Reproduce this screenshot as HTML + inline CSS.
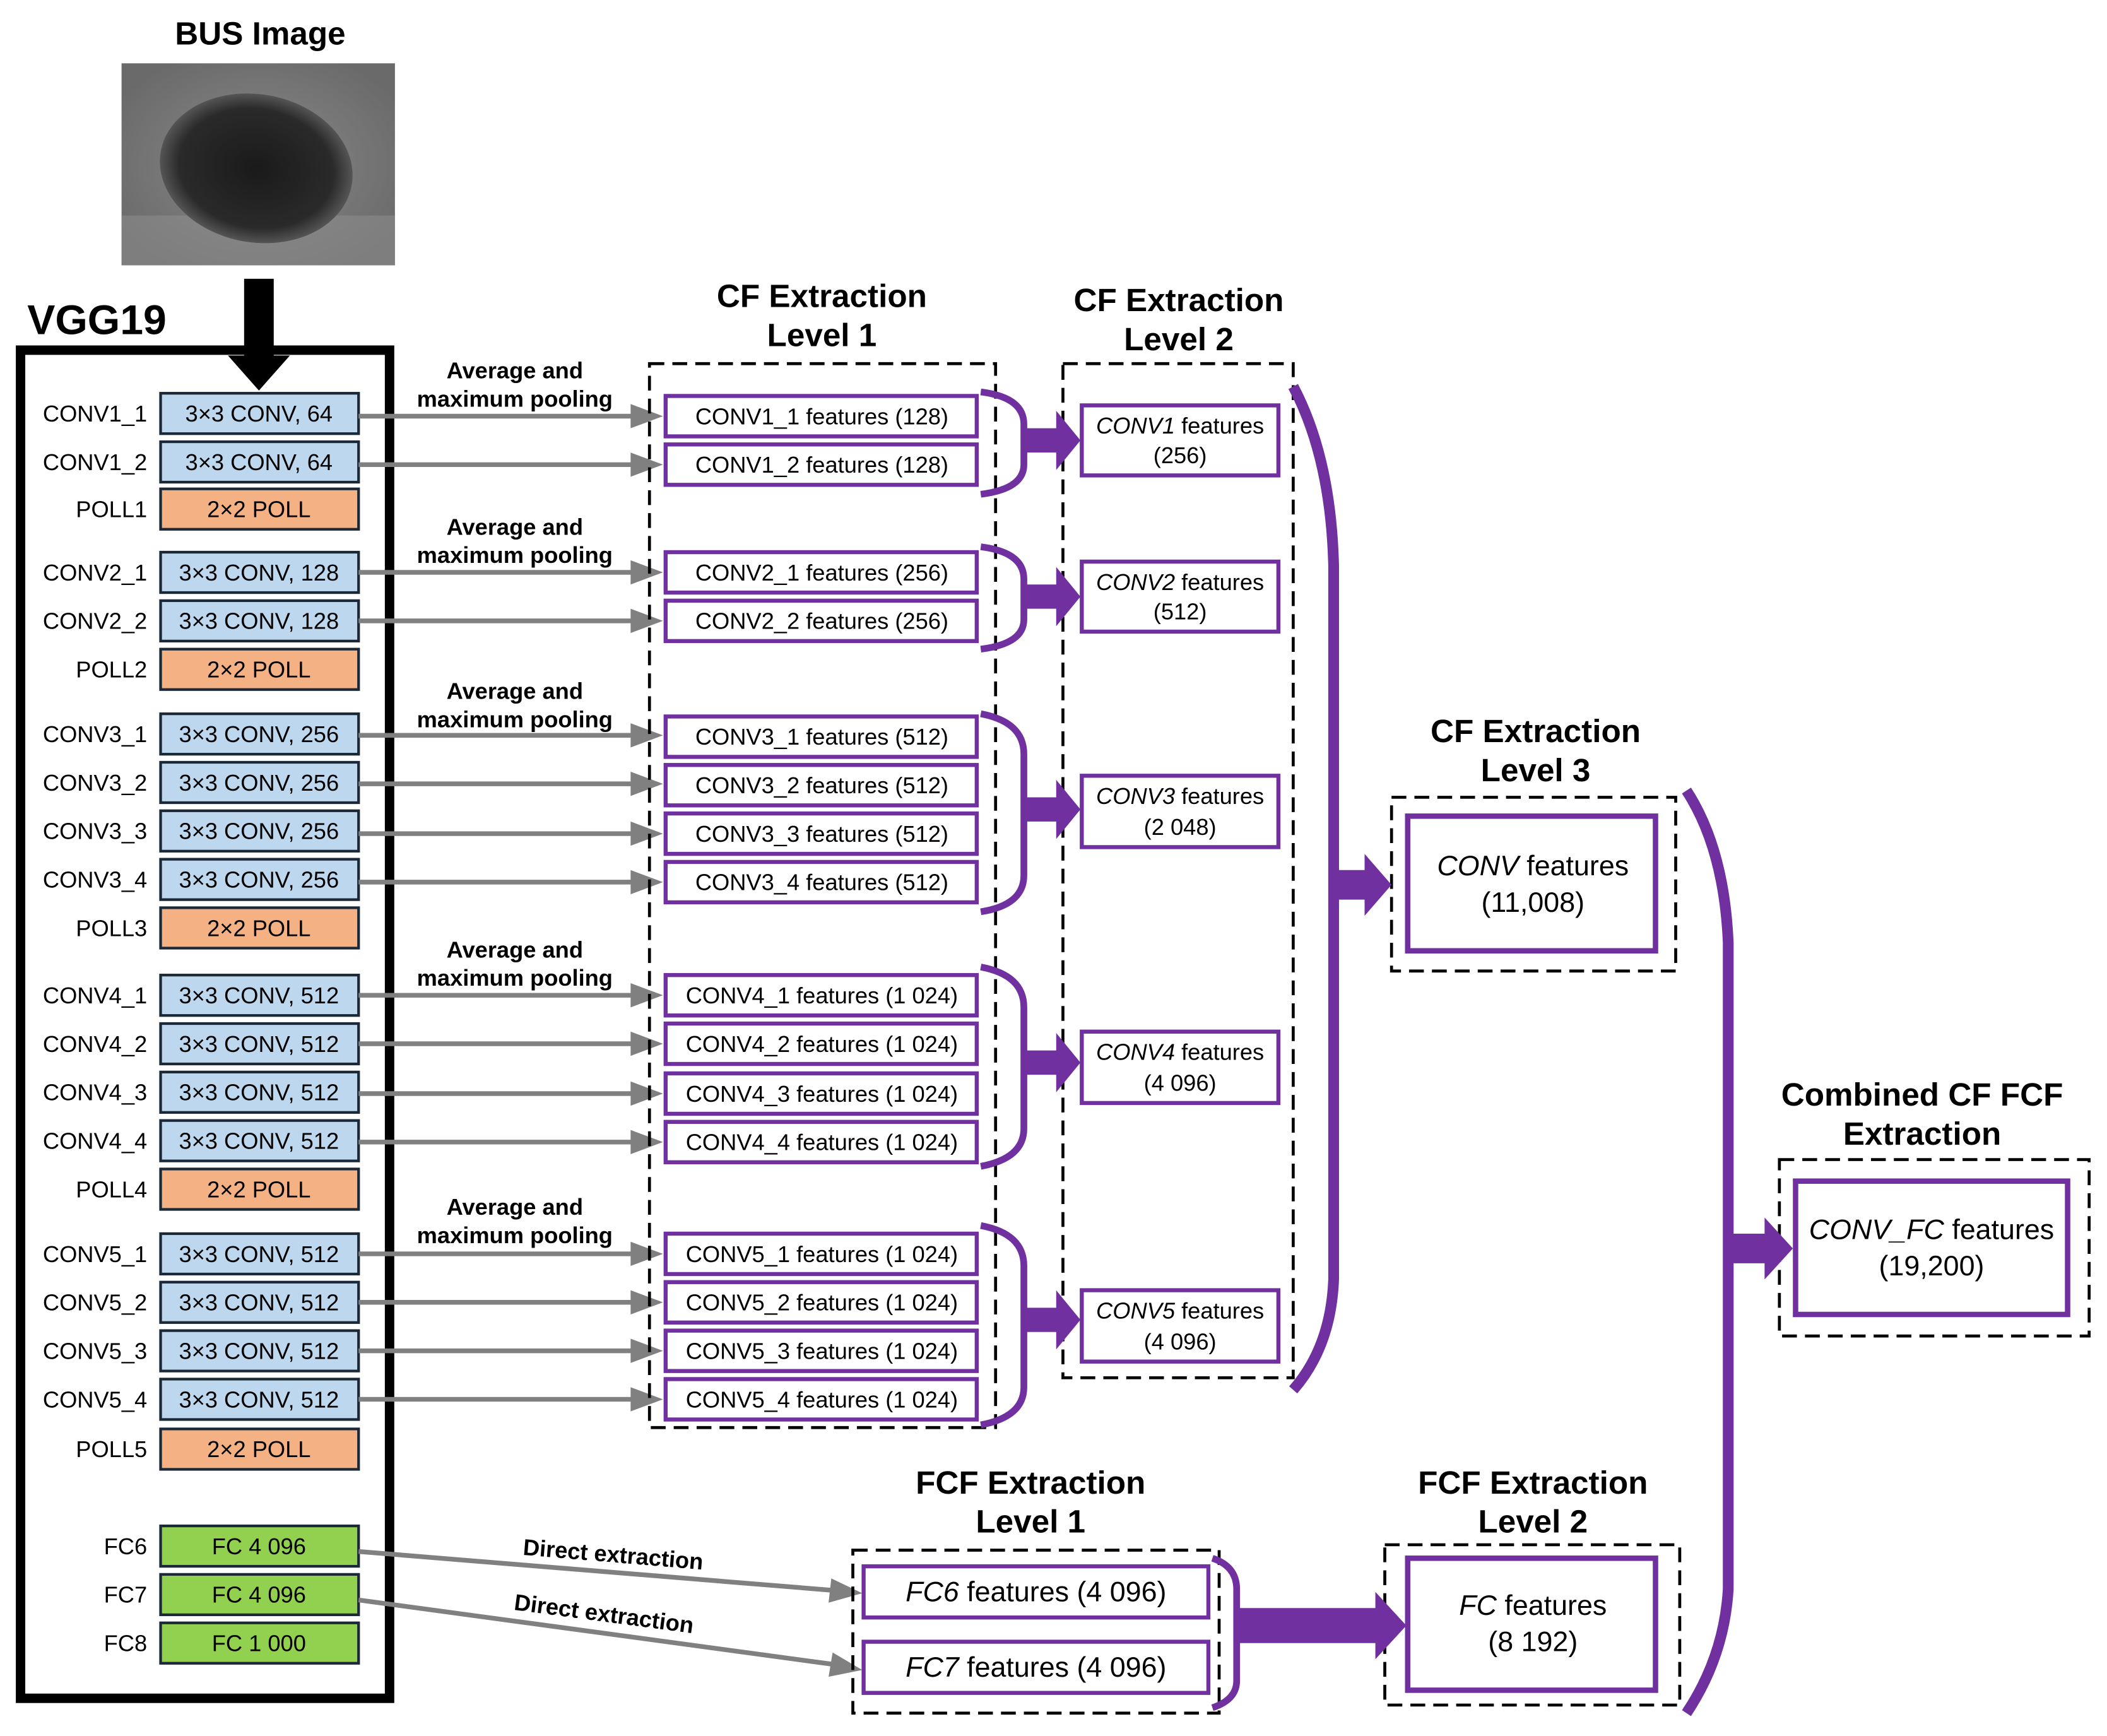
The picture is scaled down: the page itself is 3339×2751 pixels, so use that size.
<!DOCTYPE html>
<html><head><meta charset="utf-8"><style>html,body{margin:0;padding:0;background:#fff}svg{display:block}</style></head>
<body>
<svg width="3339" height="2751" viewBox="0 0 1564 1289" xmlns="http://www.w3.org/2000/svg" font-family="Liberation Sans, Arial, sans-serif">
<defs>
<radialGradient id="us" cx="50%" cy="50%" r="60%">
<stop offset="0" stop-color="#8a8a8a"/><stop offset="1" stop-color="#6a6a6a"/></radialGradient>
<radialGradient id="lesion" cx="50%" cy="50%" r="50%">
<stop offset="0" stop-color="#1a1a1a"/><stop offset="0.8" stop-color="#2a2a2a"/><stop offset="1" stop-color="#555"/></radialGradient>
</defs>
<rect width="1564" height="1289" fill="#fff"/>
<!-- BUS image -->
<text x="193" y="33" font-size="24" font-weight="bold" text-anchor="middle">BUS Image</text>
<rect x="90" y="47" width="203" height="150" fill="url(#us)"/>
<rect x="90" y="160" width="203" height="37" fill="#8c8c8c" opacity="0.6"/>
<ellipse cx="190" cy="125" rx="72" ry="55" fill="url(#lesion)" transform="rotate(10 190 125)"/>
<!-- big black arrow -->
<rect x="181" y="207" width="22" height="60" fill="#000"/>
<polygon points="169,264 215,264 192,290" fill="#000"/>
<text x="20" y="248" font-size="31" font-weight="bold">VGG19</text>
<rect x="15" y="260" width="274" height="1001" fill="none" stroke="#000" stroke-width="7"/>

<g font-size="17" text-anchor="end">
<text x="109" y="313">CONV1_1</text><text x="109" y="349">CONV1_2</text><text x="109" y="384">POLL1</text>
<text x="109" y="431">CONV2_1</text><text x="109" y="467">CONV2_2</text><text x="109" y="503">POLL2</text>
<text x="109" y="551">CONV3_1</text><text x="109" y="587">CONV3_2</text><text x="109" y="623">CONV3_3</text><text x="109" y="659">CONV3_4</text><text x="109" y="695">POLL3</text>
<text x="109" y="745">CONV4_1</text><text x="109" y="781">CONV4_2</text><text x="109" y="817">CONV4_3</text><text x="109" y="853">CONV4_4</text><text x="109" y="889">POLL4</text>
<text x="109" y="937">CONV5_1</text><text x="109" y="973">CONV5_2</text><text x="109" y="1009">CONV5_3</text><text x="109" y="1045">CONV5_4</text><text x="109" y="1082">POLL5</text>
<text x="109" y="1154">FC6</text><text x="109" y="1190">FC7</text><text x="109" y="1226">FC8</text>
</g>
<g stroke="#1b2838" stroke-width="2">
<g fill="#bdd7ee">
<rect x="119" y="292" width="147" height="30"/><rect x="119" y="328" width="147" height="30"/>
<rect x="119" y="410" width="147" height="30"/><rect x="119" y="446" width="147" height="30"/>
<rect x="119" y="530" width="147" height="30"/><rect x="119" y="566" width="147" height="30"/><rect x="119" y="602" width="147" height="30"/><rect x="119" y="638" width="147" height="30"/>
<rect x="119" y="724" width="147" height="30"/><rect x="119" y="760" width="147" height="30"/><rect x="119" y="796" width="147" height="30"/><rect x="119" y="832" width="147" height="30"/>
<rect x="119" y="916" width="147" height="30"/><rect x="119" y="952" width="147" height="30"/><rect x="119" y="988" width="147" height="30"/><rect x="119" y="1024" width="147" height="30"/>
</g>
<g fill="#f4b183">
<rect x="119" y="363" width="147" height="30"/><rect x="119" y="482" width="147" height="30"/><rect x="119" y="674" width="147" height="30"/><rect x="119" y="868" width="147" height="30"/><rect x="119" y="1061" width="147" height="30"/>
</g>
<g fill="#92d050">
<rect x="119" y="1133" width="147" height="30"/><rect x="119" y="1169" width="147" height="30"/><rect x="119" y="1205" width="147" height="30"/>
</g>
</g>
<g font-size="17" text-anchor="middle">
<text x="192" y="313">3×3 CONV, 64</text><text x="192" y="349">3×3 CONV, 64</text><text x="192" y="384">2×2 POLL</text>
<text x="192" y="431">3×3 CONV, 128</text><text x="192" y="467">3×3 CONV, 128</text><text x="192" y="503">2×2 POLL</text>
<text x="192" y="551">3×3 CONV, 256</text><text x="192" y="587">3×3 CONV, 256</text><text x="192" y="623">3×3 CONV, 256</text><text x="192" y="659">3×3 CONV, 256</text><text x="192" y="695">2×2 POLL</text>
<text x="192" y="745">3×3 CONV, 512</text><text x="192" y="781">3×3 CONV, 512</text><text x="192" y="817">3×3 CONV, 512</text><text x="192" y="853">3×3 CONV, 512</text><text x="192" y="889">2×2 POLL</text>
<text x="192" y="937">3×3 CONV, 512</text><text x="192" y="973">3×3 CONV, 512</text><text x="192" y="1009">3×3 CONV, 512</text><text x="192" y="1045">3×3 CONV, 512</text><text x="192" y="1082">2×2 POLL</text>
<text x="192" y="1154">FC 4 096</text><text x="192" y="1190">FC 4 096</text><text x="192" y="1226">FC 1 000</text>
</g>

<!-- gray arrows -->
<g stroke="#808080" stroke-width="3.5">
<line x1="266" y1="309" x2="472" y2="309"/><line x1="266" y1="345" x2="472" y2="345"/>
<line x1="266" y1="425" x2="472" y2="425"/><line x1="266" y1="461" x2="472" y2="461"/>
<line x1="266" y1="546" x2="472" y2="546"/><line x1="266" y1="582" x2="472" y2="582"/><line x1="266" y1="619" x2="472" y2="619"/><line x1="266" y1="655" x2="472" y2="655"/>
<line x1="266" y1="739" x2="472" y2="739"/><line x1="266" y1="775" x2="472" y2="775"/><line x1="266" y1="812" x2="472" y2="812"/><line x1="266" y1="848" x2="472" y2="848"/>
<line x1="266" y1="931" x2="472" y2="931"/><line x1="266" y1="967" x2="472" y2="967"/><line x1="266" y1="1003" x2="472" y2="1003"/><line x1="266" y1="1039" x2="472" y2="1039"/>
<line x1="266" y1="1152" x2="620" y2="1181"/><line x1="266" y1="1188" x2="620" y2="1236"/>
</g>
<g fill="#808080">
<polygon points="468,300 492,309 468,318"/><polygon points="468,336 492,345 468,354"/>
<polygon points="468,416 492,425 468,434"/><polygon points="468,452 492,461 468,470"/>
<polygon points="468,537 492,546 468,555"/><polygon points="468,573 492,582 468,591"/><polygon points="468,610 492,619 468,628"/><polygon points="468,646 492,655 468,664"/>
<polygon points="468,730 492,739 468,748"/><polygon points="468,766 492,775 468,784"/><polygon points="468,803 492,812 468,821"/><polygon points="468,839 492,848 468,857"/>
<polygon points="468,922 492,931 468,940"/><polygon points="468,958 492,967 468,976"/><polygon points="468,994 492,1003 468,1012"/><polygon points="468,1030 492,1039 468,1048"/>
<polygon points="617,1172 640,1183 615,1190"/><polygon points="618,1227 640,1240 615,1245"/>
</g>
<g font-size="17" font-weight="bold" text-anchor="middle">
<text x="382" y="281">Average and</text><text x="382" y="302">maximum pooling</text>
<text x="382" y="397">Average and</text><text x="382" y="418">maximum pooling</text>
<text x="382" y="519">Average and</text><text x="382" y="540">maximum pooling</text>
<text x="382" y="711">Average and</text><text x="382" y="732">maximum pooling</text>
<text x="382" y="902">Average and</text><text x="382" y="923">maximum pooling</text>
<text x="455" y="1160" transform="rotate(4.7 455 1155)">Direct extraction</text>
<text x="448" y="1204" transform="rotate(7.5 448 1200)">Direct extraction</text>
</g>

<!-- titles -->
<g font-size="24" font-weight="bold" text-anchor="middle">
<text x="610" y="228">CF Extraction</text><text x="610" y="257">Level 1</text>
<text x="875" y="231">CF Extraction</text><text x="875" y="260">Level 2</text>
<text x="1140" y="551">CF Extraction</text><text x="1140" y="580">Level 3</text>
<text x="1427" y="821">Combined CF FCF</text><text x="1427" y="850">Extraction</text>
<text x="765" y="1109">FCF Extraction</text><text x="765" y="1138">Level 1</text>
<text x="1138" y="1109">FCF Extraction</text><text x="1138" y="1138">Level 2</text>
</g>

<!-- dashed boxes -->
<g fill="none" stroke="#000" stroke-width="2.2" stroke-dasharray="11,6">
<rect x="482" y="270" width="257" height="790"/>
<rect x="789" y="270" width="171" height="753"/>
<rect x="1033" y="592" width="211" height="129"/>
<rect x="1321" y="861" width="230" height="131"/>
<rect x="633" y="1151" width="272" height="121"/>
<rect x="1028" y="1147" width="219" height="119"/>
</g>

<!-- purple feature boxes -->
<g fill="#fff" stroke="#7030a0" stroke-width="3">
<rect x="494" y="294" width="231" height="30"/><rect x="494" y="330" width="231" height="30"/>
<rect x="494" y="410" width="231" height="30"/><rect x="494" y="446" width="231" height="30"/>
<rect x="494" y="532" width="231" height="30"/><rect x="494" y="568" width="231" height="30"/><rect x="494" y="604" width="231" height="30"/><rect x="494" y="640" width="231" height="30"/>
<rect x="494" y="724" width="231" height="30"/><rect x="494" y="760" width="231" height="30"/><rect x="494" y="797" width="231" height="30"/><rect x="494" y="833" width="231" height="30"/>
<rect x="494" y="916" width="231" height="30"/><rect x="494" y="952" width="231" height="30"/><rect x="494" y="988" width="231" height="30"/><rect x="494" y="1024" width="231" height="30"/>
<rect x="803" y="301" width="146" height="52"/><rect x="803" y="417" width="146" height="52"/><rect x="803" y="576" width="146" height="53"/><rect x="803" y="766" width="146" height="53"/><rect x="803" y="958" width="146" height="53"/>
<rect x="641" y="1163" width="256" height="38"/><rect x="641" y="1219" width="256" height="38"/>
</g>
<g fill="none" stroke="#7030a0" stroke-width="4">
<rect x="1045" y="606" width="184" height="100"/>
<rect x="1333" y="877" width="202" height="99"/>
<rect x="1045" y="1157" width="184" height="98"/>
</g>
<g font-size="17" text-anchor="middle">
<text x="610" y="315">CONV1_1 features (128)</text><text x="610" y="351">CONV1_2 features (128)</text>
<text x="610" y="431">CONV2_1 features (256)</text><text x="610" y="467">CONV2_2 features (256)</text>
<text x="610" y="553">CONV3_1 features (512)</text><text x="610" y="589">CONV3_2 features (512)</text><text x="610" y="625">CONV3_3 features (512)</text><text x="610" y="661">CONV3_4 features (512)</text>
<text x="610" y="745">CONV4_1 features (1 024)</text><text x="610" y="781">CONV4_2 features (1 024)</text><text x="610" y="818">CONV4_3 features (1 024)</text><text x="610" y="854">CONV4_4 features (1 024)</text>
<text x="610" y="937">CONV5_1 features (1 024)</text><text x="610" y="973">CONV5_2 features (1 024)</text><text x="610" y="1009">CONV5_3 features (1 024)</text><text x="610" y="1045">CONV5_4 features (1 024)</text>
<text x="876" y="322"><tspan font-style="italic">CONV1</tspan> features</text><text x="876" y="344">(256)</text>
<text x="876" y="438"><tspan font-style="italic">CONV2</tspan> features</text><text x="876" y="460">(512)</text>
<text x="876" y="597"><tspan font-style="italic">CONV3</tspan> features</text><text x="876" y="620">(2 048)</text>
<text x="876" y="787"><tspan font-style="italic">CONV4</tspan> features</text><text x="876" y="810">(4 096)</text>
<text x="876" y="979"><tspan font-style="italic">CONV5</tspan> features</text><text x="876" y="1002">(4 096)</text>
</g>
<g font-size="21" text-anchor="middle">
<text x="1138" y="650"><tspan font-style="italic">CONV</tspan> features</text><text x="1138" y="677">(11,008)</text>
<text x="1434" y="920"><tspan font-style="italic">CONV_FC</tspan> features</text><text x="1434" y="947">(19,200)</text>
<text x="1138" y="1199"><tspan font-style="italic">FC</tspan> features</text><text x="1138" y="1226">(8 192)</text>
<text x="769" y="1189"><tspan font-style="italic">FC6</tspan> features (4 096)</text>
<text x="769" y="1245"><tspan font-style="italic">FC7</tspan> features (4 096)</text>
</g>

<!-- brackets -->
<g fill="none" stroke="#7030a0" stroke-width="5">
<path d="M728,291 Q760,295 760,315 L760,345 Q760,363 728,367"/>
<path d="M728,406 Q760,410 760,430 L760,460 Q760,478 728,482"/>
<path d="M728,530 Q760,536 760,560 L760,650 Q760,672 728,677"/>
<path d="M728,718 Q760,724 760,748 L760,838 Q760,860 728,866"/>
<path d="M728,910 Q760,916 760,940 L760,1030 Q760,1052 728,1058"/>
<path d="M900,1157 Q918,1163 918,1180 L918,1248 Q918,1262 900,1268"/>
</g>
<g fill="none" stroke="#7030a0" stroke-width="8">
<path d="M960,287 Q988,340 990,420 L990,950 Q988,1000 960,1032"/>
<path d="M1252,587 Q1280,630 1283,700 L1283,1180 Q1280,1230 1252,1272"/>
</g>
<g fill="#7030a0">
<polygon points="760,318 784,318 784,305 802,327 784,349 784,336 760,336"/>
<polygon points="760,434 784,434 784,421 802,443 784,465 784,452 760,452"/>
<polygon points="760,592 784,592 784,579 802,601 784,623 784,610 760,610"/>
<polygon points="760,780 784,780 784,767 802,789 784,811 784,798 760,798"/>
<polygon points="760,971 784,971 784,958 802,980 784,1002 784,989 760,989"/>
<polygon points="990,646 1013,646 1013,634 1033,657 1013,680 1013,668 990,668"/>
<polygon points="1283,916 1310,916 1310,904 1331,927 1310,950 1310,938 1283,938"/>
<polygon points="918,1194 1021,1194 1021,1182 1044,1207 1021,1232 1021,1220 918,1220"/>
</g>
</svg>
</body></html>
